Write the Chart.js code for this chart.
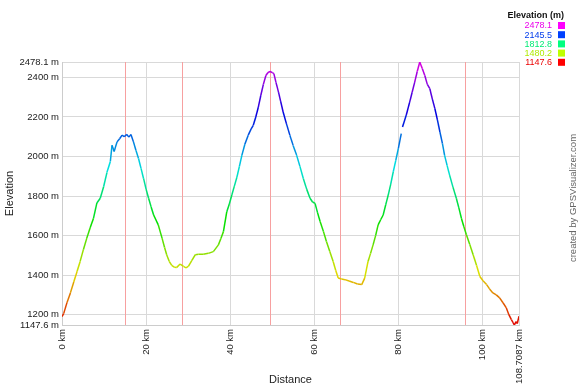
<!DOCTYPE html>
<html>
<head>
<meta charset="utf-8">
<script src="https://cdn.jsdelivr.net/npm/chart.js@4/dist/chart.umd.min.js"></script>
<style>
  html, body { margin: 0; padding: 0; background: #fff; }
  #wrap { position: relative; width: 580px; height: 387px; }
</style>
</head>
<body>
<div id="wrap"><canvas id="chart" width="580" height="387"></canvas></div>
<script>
// distance along the track (km) and elevation (m)
const distanceKm = [
  0, 0.4, 1.2, 2.0, 2.8, 3.6, 4.3, 5.1, 5.9, 6.7, 7.5, 8.3, 9.1, 9.9, 10.7, 11.5, 11.9, 12.4, 13.1, 13.7,
  14.3, 14.8, 15.4, 15.9, 16.4, 17.0, 17.6, 18.2, 18.8, 19.4, 20.0, 20.6, 21.2, 21.8, 22.9, 23.8, 24.4, 24.9,
  25.5, 26.1, 26.7, 27.3, 28.1, 28.9, 29.5, 30.1, 30.9, 31.7, 32.5, 33.6, 34.8, 36.0, 37.2, 37.8, 38.4, 39.2,
  39.8, 40.4, 41.0, 41.6, 42.2, 42.8, 43.5, 44.3, 45.0, 45.5, 46.1, 46.7, 47.3, 47.9, 48.5, 49.0, 49.5, 50.0,
  50.4, 50.9, 51.5, 52.0, 52.6, 53.4, 54.2, 55.0, 55.8, 56.6, 57.4, 58.2, 59.0, 59.6, 60.2, 60.8, 61.4, 62.2,
  62.9, 63.7, 64.5, 65.1, 65.7, 66.5, 67.3, 68.3, 69.3, 70.3, 71.3, 72.0, 72.8, 73.4, 74.0, 74.6, 75.2, 75.8,
  76.4, 77.0, 77.6, 78.2, 78.8, 79.4, 80.0, 80.7, 80.9, 81.0, 81.9, 82.7, 83.3, 83.9, 84.5, 85.1, 85.7, 86.3,
  86.9, 87.5, 88.1, 88.7, 89.3, 89.9, 90.5, 91.0, 91.6, 92.2, 93.0, 93.8, 94.4, 95.0, 95.6, 96.2, 97.0, 97.8,
  98.6, 99.4, 100.2, 101.0, 101.7, 102.5, 103.3, 104.1, 104.9, 105.7, 106.3, 106.9, 107.3, 107.6, 108.0, 108.3,
  108.7087
];
const elevationM = [
  1190, 1205, 1262, 1310, 1365, 1420, 1468, 1530, 1587, 1640, 1688, 1765, 1789, 1847, 1920, 1975, 2057, 2025, 2074, 2090,
  2108, 2100, 2112, 2098, 2111, 2074, 2030, 1990, 1940, 1889, 1835, 1789, 1745, 1704, 1654, 1587, 1540, 1503,
  1470, 1449, 1440, 1439, 1456, 1444, 1437, 1445, 1475, 1503, 1505, 1506, 1510, 1519, 1553, 1585, 1620, 1721,
  1760, 1805, 1850, 1895, 1950, 2007, 2062, 2108, 2140, 2158, 2200, 2250, 2310, 2365, 2410, 2425, 2430, 2425,
  2419, 2375, 2326, 2280, 2225, 2165, 2108, 2055, 2007, 1950, 1889, 1835, 1789, 1770, 1763, 1715, 1671, 1620,
  1570, 1520, 1469, 1425, 1385, 1380, 1377, 1370, 1363, 1355, 1352, 1385, 1469, 1510, 1553, 1600, 1654, 1680,
  1704, 1755, 1805, 1860, 1923, 1980, 2040, 2116, null, 2149, 2210, 2275, 2325, 2376, 2430, 2478.1, 2445, 2410,
  2365, 2343, 2290, 2242, 2185, 2124, 2065, 2007, 1955, 1906, 1845, 1789, 1740, 1688, 1645, 1604, 1555, 1503,
  1450, 1393, 1370, 1352, 1330, 1310, 1300, 1285, 1260, 1234, 1200, 1175, 1160, 1147.6, 1165, 1155,
  1192
];

const yTicks = [1147.6, 1200, 1400, 1600, 1800, 2000, 2200, 2400, 2478.1];
const xTicks = [0, 20, 40, 60, 80, 100, 108.7087];
const markerKm = [15.1, 28.5, 49.5, 66.2, 95.9];
const legendLevels = [2478.1, 2145.5, 1812.8, 1480.2, 1147.6];

const minElev = 1147.6, maxElev = 2478.1;
const FONT = "'Liberation Sans', Arial, sans-serif";

function elevColor(v, light) {
  let t = (v - minElev) / (maxElev - minElev);
  t = Math.max(0, Math.min(1, t));
  return 'hsl(' + (t * 300).toFixed(1) + ',100%,' + (light || 44) + '%)';
}

const points = distanceKm.map((d, i) => ({ x: d, y: elevationM[i] }));

const extras = {
  id: 'extras',
  beforeDatasetsDraw(chart) {
    const { ctx, chartArea, scales } = chart;
    ctx.save();
    ctx.strokeStyle = '#f7a0a0';
    ctx.lineWidth = 1;
    markerKm.forEach(k => {
      const x = Math.round(scales.x.getPixelForValue(k)) + 0.5;
      ctx.beginPath();
      ctx.moveTo(x, chartArea.top);
      ctx.lineTo(x, chartArea.bottom);
      ctx.stroke();
    });
    ctx.restore();
  },
  afterDraw(chart) {
    const { ctx } = chart;
    ctx.save();
    // legend box
    ctx.textAlign = 'right';
    ctx.textBaseline = 'middle';
    ctx.fillStyle = '#111';
    ctx.font = 'bold 9px ' + FONT;
    ctx.fillText('Elevation (m)', 564, 16);
    ctx.font = '9px ' + FONT;
    legendLevels.forEach((lv, i) => {
      const y = 26 + i * 9.2;
      ctx.fillStyle = elevColor(lv, 46);
      ctx.fillText(String(lv), 552, y);
      ctx.fillStyle = elevColor(lv, 50);
      ctx.fillRect(558, y - 4, 7, 7);
    });
    // credit
    ctx.translate(573, 198);
    ctx.rotate(-Math.PI / 2);
    ctx.textAlign = 'center';
    ctx.fillStyle = '#666';
    ctx.font = '9.5px ' + FONT;
    ctx.fillText('created by GPSVisualizer.com', 0, 0);
    ctx.restore();
  }
};

new Chart(document.getElementById('chart').getContext('2d'), {
  type: 'line',
  data: {
    datasets: [{
      label: 'Elevation',
      data: points,
      borderWidth: 1.5,
      pointRadius: 0,
      tension: 0,
      spanGaps: false,
      borderColor: '#000',
      segment: {
        borderColor: c => elevColor((c.p0.parsed.y + c.p1.parsed.y) / 2)
      }
    }]
  },
  options: {
    responsive: false,
    animation: false,
    devicePixelRatio: 1,
    layout: { padding: { top: 62, right: 61, left: 0, bottom: 0 } },
    plugins: { legend: { display: false }, tooltip: { enabled: false } },
    scales: {
      x: {
        type: 'linear',
        min: 0,
        max: 108.7087,
        afterBuildTicks: s => { s.ticks = xTicks.map(v => ({ value: v })); },
        afterFit: s => { s.height = 62; },
        grid: { color: '#d9d9d9', drawTicks: false },
        border: { color: '#cccccc' },
        ticks: {
          autoSkip: false,
          minRotation: 90,
          maxRotation: 90,
          padding: 4,
          color: '#222',
          font: { family: FONT, size: 9.5 },
          callback: v => v + ' km'
        },
        title: {
          display: true,
          text: 'Distance',
          color: '#222',
          font: { family: FONT, size: 11 },
          padding: { top: 0, bottom: 0 }
        }
      },
      y: {
        min: minElev,
        max: maxElev,
        afterBuildTicks: s => { s.ticks = yTicks.map(v => ({ value: v })); },
        afterFit: s => { s.width = 62; },
        grid: { color: '#d9d9d9', drawTicks: false },
        border: { color: '#cccccc' },
        ticks: {
          padding: 3,
          color: '#222',
          font: { family: FONT, size: 9.5 },
          callback: v => v + ' m'
        },
        title: {
          display: true,
          text: 'Elevation',
          color: '#222',
          font: { family: FONT, size: 11 },
          padding: { top: 3, bottom: 0 }
        }
      }
    }
  },
  plugins: [extras]
});
</script>
</body>
</html>
